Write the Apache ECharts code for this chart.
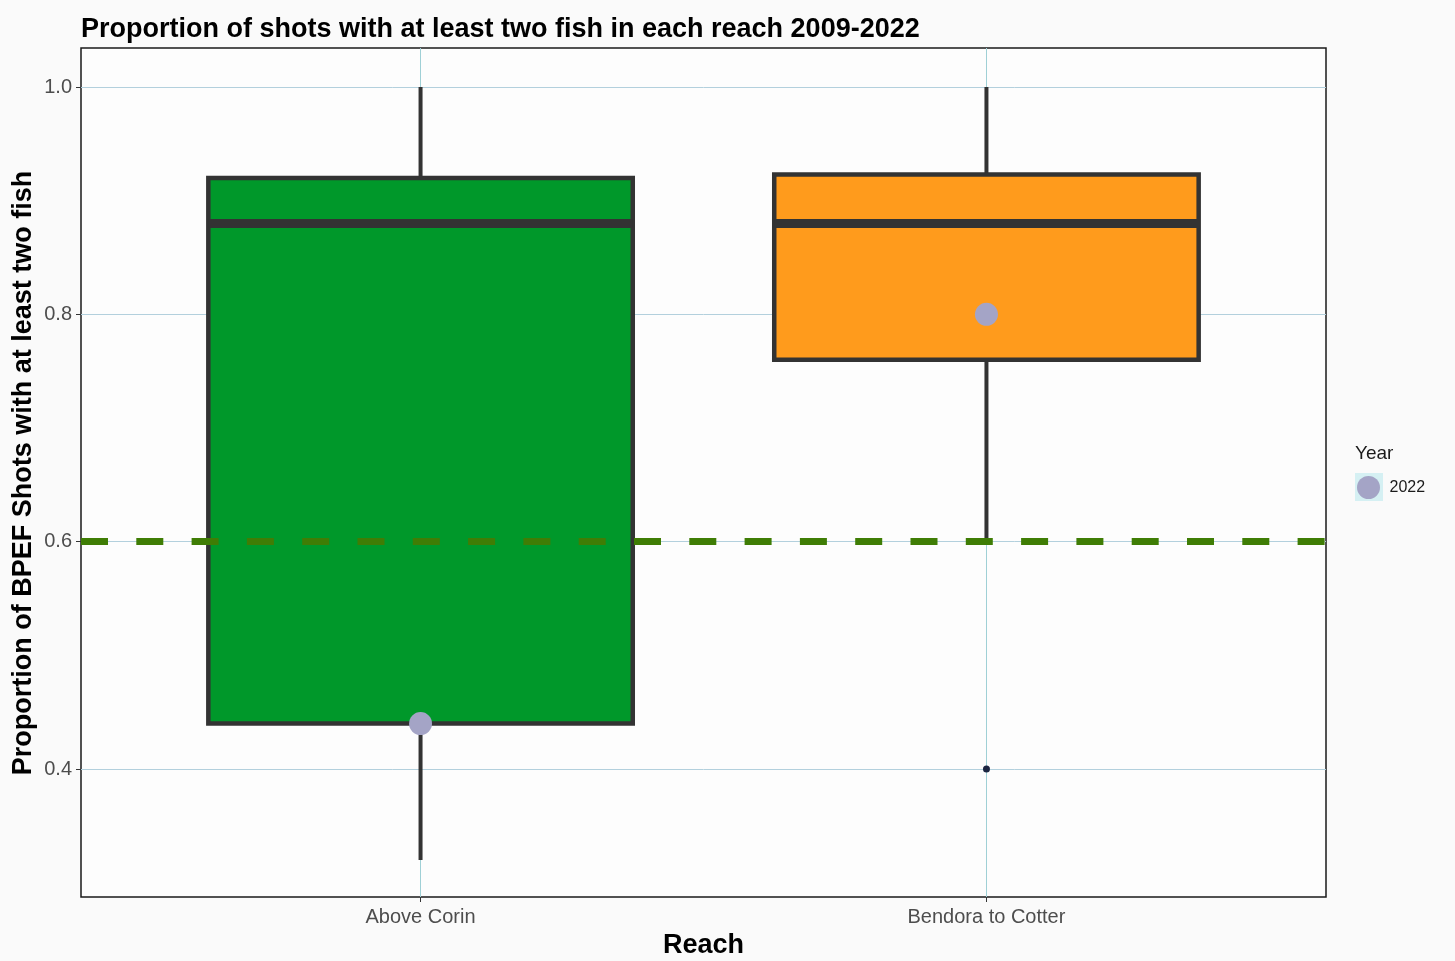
<!DOCTYPE html>
<html><head><meta charset="utf-8">
<script src="https://cdn.jsdelivr.net/npm/echarts@6/dist/echarts.min.js"></script>
<style>html,body{margin:0;padding:0;background:#fafafa;}#c{width:1455px;height:961px;}</style>
</head><body><div id="c"></div>
<script>
// ---- data ----
var categories = ['Above Corin', 'Bendora to Cotter'];
var whiskerLow = [0.32, 0.60];
var q1 = [0.44, 0.76];
var median = [0.88, 0.88];
var q3 = [0.92, 0.923];
var whiskerHigh = [1.0, 1.0];
var boxColors = ['#00982A', '#FF9B1C'];
var outlierReach = ['Bendora to Cotter'];
var outlierValue = [0.40];
var year2022 = [0.44, 0.80];
var threshold = 0.6;
var yTicks = [0.4, 0.6, 0.8, 1.0];
var yMin = 0.2874, yMax = 1.0343;
var yTitle = 'Proportion of BPEF Shots with at least two fish';

var boxData = categories.map(function (c, i) {
  return [i + 1, whiskerLow[i], q1[i], median[i], q3[i], whiskerHigh[i], i];
});
var pts2022 = categories.map(function (c, i) { return [i + 1, year2022[i]]; });
var outPts = outlierReach.map(function (c, i) { return [categories.indexOf(c) + 1, outlierValue[i]]; });

var chart = echarts.init(document.getElementById('c'), null, {renderer: 'canvas'});
var FONT = 'Liberation Sans, Arial, sans-serif';
var halfW = 0.375;

function renderBox(params, api) {
  var x = api.value(0);
  var lo = api.coord([x, api.value(1)]);
  var b1 = api.coord([x, api.value(2)]);
  var md = api.coord([x, api.value(3)]);
  var b3 = api.coord([x, api.value(4)]);
  var hi = api.coord([x, api.value(5)]);
  var left = api.coord([x - halfW, api.value(3)])[0];
  var right = api.coord([x + halfW, api.value(3)])[0];
  var col = boxColors[api.value(6)];
  var stroke = '#333333';
  return {
    type: 'group',
    children: [
      {type: 'line', shape: {x1: lo[0], y1: lo[1], x2: b1[0], y2: b1[1]}, style: {stroke: stroke, lineWidth: 4}},
      {type: 'line', shape: {x1: b3[0], y1: b3[1], x2: hi[0], y2: hi[1]}, style: {stroke: stroke, lineWidth: 4}},
      {type: 'rect', shape: {x: left, y: b3[1], width: right - left, height: b1[1] - b3[1]},
        style: {fill: col, stroke: stroke, lineWidth: 4.5}},
      {type: 'line', shape: {x1: left, y1: md[1], x2: right, y2: md[1]}, style: {stroke: stroke, lineWidth: 9}}
    ]
  };
}

var option = {
  backgroundColor: '#fafafa',
  animation: false,
  title: {
    text: 'Proportion of shots with at least two fish in each reach 2009-2022',
    left: 76, top: 11,
    textStyle: {fontFamily: FONT, fontSize: 27, fontWeight: 'bold', color: '#000'}
  },
  grid: {left: 81, top: 48, right: 129, bottom: 64, show: true, outerBoundsMode: 'none', containLabel: false,
    backgroundColor: '#fdfdfd', borderColor: '#1a1a1a', borderWidth: 1.5},
  legend: {
    data: ['2022'], left: 1352, top: 471, orient: 'vertical',
    icon: 'circle', itemWidth: 32, itemHeight: 23,
    textStyle: {fontFamily: FONT, fontSize: 16, color: '#1a1a1a'}
  },
  graphic: [
    {type: 'rect', left: 1355, top: 473, z: -1, shape: {width: 28, height: 28}, style: {fill: '#d5f0f3'}},
    {type: 'text', left: 1355, top: 444, style: {text: 'Year', font: '19px ' + FONT, fill: '#1a1a1a'}},
    {type: 'text', x: 24, y: 473, rotation: Math.PI / 2,
      style: {text: yTitle, font: 'bold 27px ' + FONT, fill: '#000', align: 'center', verticalAlign: 'middle'}}
  ],
  xAxis: {
    type: 'value', min: 0.4, max: 2.6,
    name: 'Reach', nameLocation: 'middle', nameGap: 32,
    nameTextStyle: {fontFamily: FONT, fontSize: 27, fontWeight: 'bold', color: '#000'},
    axisLine: {show: false},
    axisTick: {show: true, customValues: [1, 2], length: 5, lineStyle: {color: '#333'}},
    axisLabel: {customValues: [1, 2], margin: 10, fontFamily: FONT, fontSize: 20, color: '#4d4d4d',
      formatter: function (v) { return categories[Math.round(v) - 1] || ''; }},
    splitLine: {show: false}
  },
  yAxis: {
    type: 'value', min: yMin, max: yMax,
    axisLine: {show: false},
    axisTick: {show: true, customValues: yTicks, length: 5, lineStyle: {color: '#333'}},
    axisLabel: {customValues: yTicks, margin: 9, fontFamily: FONT, fontSize: 20, color: '#4d4d4d',
      formatter: function (v) { return v.toFixed(1); }},
    splitLine: {show: false}
  },
  series: [
    {
      type: 'scatter', name: 'grid', data: [], silent: true, z: 1,
      markLine: {
        silent: true, symbol: 'none', z: 1, label: {show: false}, animation: false,
        data: yTicks.map(function (v) { return {yAxis: v, lineStyle: {color: '#b3d0dd', width: 1, type: 'solid'}}; })
          .concat(categories.map(function (c, i) { return {xAxis: i + 1, lineStyle: {color: '#9fd0d6', width: 1, type: 'solid'}}; }))
      }
    },
    {
      type: 'custom', name: 'box', renderItem: renderBox, data: boxData, z: 2,
      encode: {x: 0, y: [1, 2, 3, 4, 5]}
    },
    {
      type: 'scatter', name: 'outlier', data: outPts, symbolSize: 7, z: 4,
      itemStyle: {color: '#1c2541', opacity: 1},
      markLine: {
        silent: true, symbol: 'none', z: 3, label: {show: false}, animation: false,
        lineStyle: {color: '#3f7d05', width: 7, type: [27, 28.3], cap: 'butt'},
        data: [{yAxis: threshold}]
      }
    },
    {
      type: 'scatter', name: '2022', data: pts2022, symbolSize: 23, z: 5,
      itemStyle: {color: '#a4a4c6', opacity: 1}
    }
  ]
};
chart.setOption(option);
</script>
</body></html>
